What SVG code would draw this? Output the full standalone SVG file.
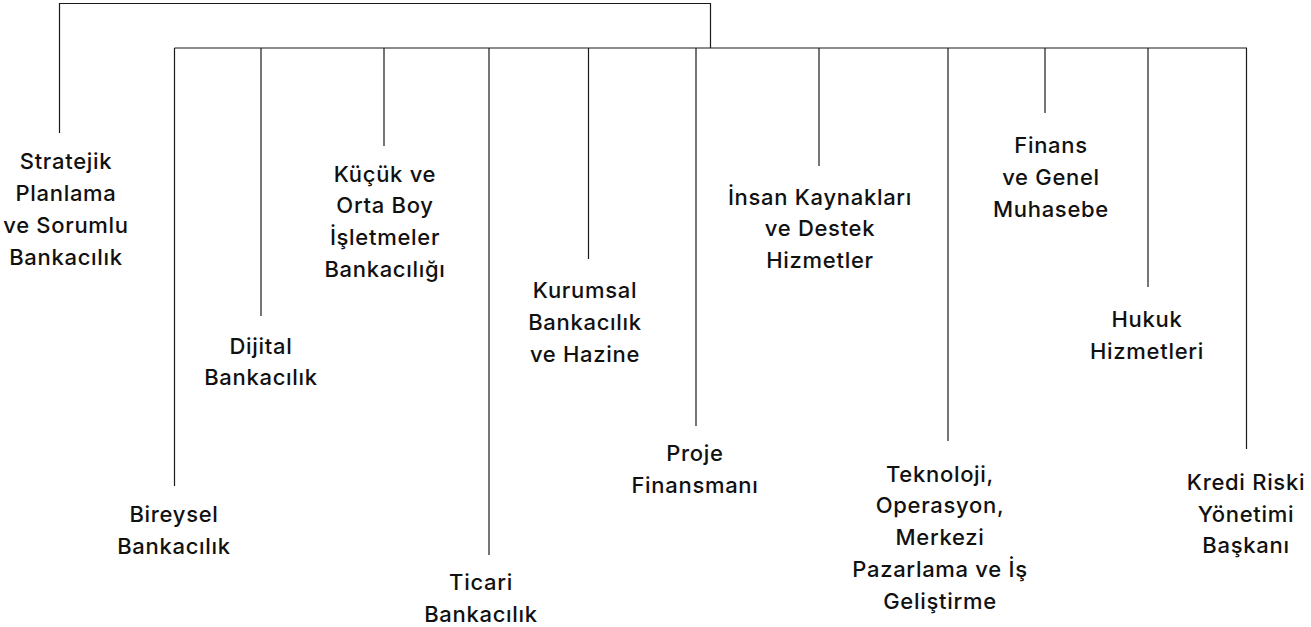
<svg xmlns="http://www.w3.org/2000/svg" width="1311" height="627" viewBox="0 0 1311 627">
<style>
.c{fill:none;stroke:#1a1a1a;stroke-width:1.2}
text{font-family:Inter,"Noto Sans","DejaVu Sans",sans-serif;font-size:22px;font-weight:500;letter-spacing:0.7px;fill:#111;text-anchor:middle}
</style>
<rect width="1311" height="627" fill="#fff"/>
<g id="connectors">
<path class="c" d="M59.5,133 V3.5 H710.5 V48"/>
<path class="c" d="M174.5,48 H1247"/>
<path class="c" d="M174.5,48 V486"/>
<path class="c" d="M261,48 V316"/>
<path class="c" d="M384,48 V146"/>
<path class="c" d="M489,48 V555"/>
<path class="c" d="M588.5,48 V259"/>
<path class="c" d="M696,48 V426"/>
<path class="c" d="M819,48 V166"/>
<path class="c" d="M948,48 V441"/>
<path class="c" d="M1045,48 V113"/>
<path class="c" d="M1148,48 V287"/>
<path class="c" d="M1246.5,48 V449"/>
</g>
<g id="n-stratejik"><text x="66" y="169">Stratejik</text><text x="66" y="201">Planlama</text><text x="66" y="233">ve Sorumlu</text><text x="66" y="265">Bankacılık</text></g>
<g id="n-bireysel"><text x="174" y="522">Bireysel</text><text x="174" y="554">Bankacılık</text></g>
<g id="n-dijital"><text x="261" y="354">Dijital</text><text x="261" y="385">Bankacılık</text></g>
<g id="n-kobi"><text x="385" y="182">Küçük ve</text><text x="385" y="213">Orta Boy</text><text x="385" y="245">İşletmeler</text><text x="385" y="277">Bankacılığı</text></g>
<g id="n-ticari"><text x="481" y="590">Ticari</text><text x="481" y="622">Bankacılık</text></g>
<g id="n-kurumsal"><text x="585" y="298">Kurumsal</text><text x="585" y="330">Bankacılık</text><text x="585" y="362">ve Hazine</text></g>
<g id="n-proje"><text x="695" y="461">Proje</text><text x="695" y="493">Finansmanı</text></g>
<g id="n-insan"><text x="820" y="205">İnsan Kaynakları</text><text x="820" y="236">ve Destek</text><text x="820" y="268">Hizmetler</text></g>
<g id="n-teknoloji"><text x="940" y="482">Teknoloji,</text><text x="940" y="513">Operasyon,</text><text x="940" y="545">Merkezi</text><text x="940" y="577">Pazarlama ve İş</text><text x="940" y="609">Geliştirme</text></g>
<g id="n-finans"><text x="1051" y="153">Finans</text><text x="1051" y="185">ve Genel</text><text x="1051" y="217">Muhasebe</text></g>
<g id="n-hukuk"><text x="1147" y="327">Hukuk</text><text x="1147" y="359">Hizmetleri</text></g>
<g id="n-kredi"><text x="1246" y="490">Kredi Riski</text><text x="1246" y="522">Yönetimi</text><text x="1246" y="553">Başkanı</text></g>
</svg>
